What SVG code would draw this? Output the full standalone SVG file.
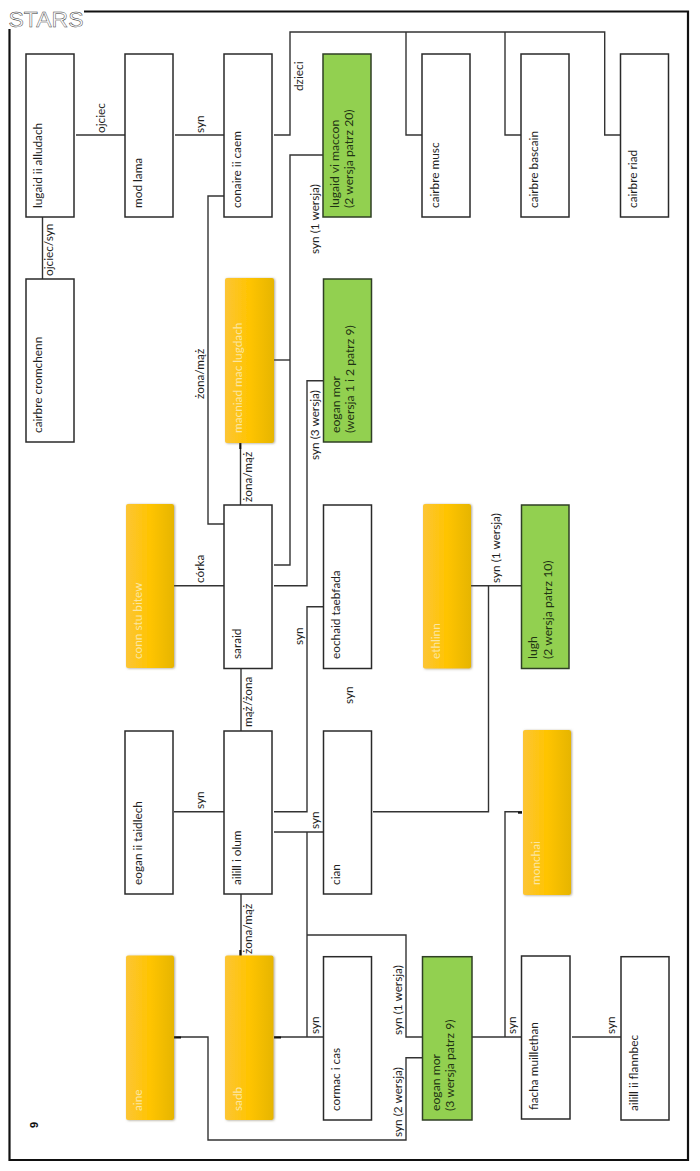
<svg xmlns="http://www.w3.org/2000/svg" width="700" height="1171" viewBox="0 0 700 1171">
  <defs>
    <linearGradient id="gold" x1="0" y1="0" x2="1" y2="0">
      <stop offset="0" stop-color="#fcc535"/>
      <stop offset="0.5" stop-color="#ffc400"/>
      <stop offset="1" stop-color="#e6b505"/>
    </linearGradient>
    <filter id="soft" x="-10%" y="-5%" width="125%" height="112%">
      <feDropShadow dx="1" dy="0.5" stdDeviation="1" flood-color="#6b6040" flood-opacity="0.55"/>
    </filter>
  </defs>
  <style>
    text { font-family: Lato, "Open Sans", "Noto Sans", sans-serif; font-size: 11.8px; fill: #1f1f1f; }
    .box { fill: #ffffff; stroke: #2a2a2a; stroke-width: 1.5; }
    .green { fill: #92d050; stroke: #2f3f25; stroke-width: 1.5; }
    .gold { fill: url(#gold); filter: url(#soft); }
    .gold-label { fill: #fbe6a2; }
    .green-label { fill: #1f3313; font-size: 12.2px; }
    .wire { fill: none; stroke: #333333; stroke-width: 1.4; }
    .stub { fill: none; stroke: #111111; stroke-width: 2; }
    .frame { fill: none; stroke: #111111; stroke-width: 2.2; }
    .logo { font-family: "Liberation Sans", sans-serif; font-size: 22.5px; fill: #ffffff; stroke: #333333; stroke-width: 0.45; }
    .page { font-family: "Liberation Sans", sans-serif; font-size: 11px; font-weight: bold; fill: #111111; }
  </style>

  <rect width="700" height="1171" fill="#ffffff"/>

  <!-- page border, left open at the top corner for the logo -->
  <path id="frame" class="frame" d="M84 11.5H688V1160H9.5V29"/>
  <text id="logo" class="logo" x="8.5" y="27.2" textLength="75" lengthAdjust="spacingAndGlyphs">STARS</text>
  <text id="page-number" class="page" transform="translate(38 1128) rotate(-90)">9</text>

  <g id="connectors">
    <path class="wire" d="M76 135H125"/>
    <path class="wire" d="M175 135H224"/>
    <path class="wire" d="M42.5 217V279"/>
    <path class="wire" d="M274 135H290V32H604.7V135H620.5"/>
    <path class="wire" d="M406 32V135H422"/>
    <path class="wire" d="M505 32V135H521"/>
    <path class="wire" d="M224 196H208V524H224"/>
    <path class="wire" d="M323 155H290V565H274"/>
    <path class="wire" d="M274 360H290"/>
    <path class="wire" d="M323 380.7H307V585.7H274"/>
    <path class="wire" d="M240.5 443V505"/>
    <path class="wire" d="M174 585.7H224"/>
    <path class="wire" d="M323 606.7H307V811.7H274"/>
    <path class="wire" d="M241 669V731"/>
    <path class="wire" d="M174 811.7H224"/>
    <path class="wire" d="M274 832H323"/>
    <path class="wire" d="M241 894V956"/>
    <path class="wire" d="M307 832V1037"/>
    <path class="wire" d="M274 1037H323"/>
    <path class="wire" d="M307 935H406V1037H422"/>
    <path class="wire" d="M174 1037H208V1140H406V1057.7H422"/>
    <path class="wire" d="M472 1037H521"/>
    <path class="wire" d="M505 1037V811.7H522"/>
    <path class="wire" d="M572 1037H621"/>
    <path class="wire" d="M373 811.7H488.5V585.7"/>
    <path class="wire" d="M471 585.7H521"/>
    <!-- short heavier ends where lines leave the gold boxes -->
    <path class="stub" d="M240.3 443V449"/>
    <path class="stub" d="M240.3 950V956"/>
    <path class="stub" d="M174 1037.5H181"/>
    <path class="stub" d="M274 1037.5H281"/>
    <path class="stub" d="M518 812.7H522"/>
  </g>

  <g id="link-labels">
    <text transform="translate(105 133) rotate(-90)">ojciec</text>
    <text transform="translate(204 133) rotate(-90)">syn</text>
    <text transform="translate(53 276) rotate(-90)">ojciec/syn</text>
    <text transform="translate(303 91) rotate(-90)">dzieci</text>
    <text transform="translate(319 254) rotate(-90)">syn (1 wersja)</text>
    <text transform="translate(204 399) rotate(-90)">żona/mąż</text>
    <text transform="translate(252 502) rotate(-90)">żona/mąż</text>
    <text transform="translate(319 460) rotate(-90)">syn (3 wersja)</text>
    <text transform="translate(204 583) rotate(-90)">córka</text>
    <text transform="translate(303 645) rotate(-90)">syn</text>
    <text transform="translate(252 727) rotate(-90)">mąż/żona</text>
    <text transform="translate(353 704) rotate(-90)">syn</text>
    <text transform="translate(500 583) rotate(-90)">syn (1 wersja)</text>
    <text transform="translate(204 809) rotate(-90)">syn</text>
    <text transform="translate(319 829) rotate(-90)">syn</text>
    <text transform="translate(252 954) rotate(-90)">żona/mąż</text>
    <text transform="translate(319 1034) rotate(-90)">syn</text>
    <text transform="translate(402 1035) rotate(-90)">syn (1 wersja)</text>
    <text transform="translate(402 1137) rotate(-90)">syn (2 wersja)</text>
    <text transform="translate(516 1034) rotate(-90)">syn</text>
    <text transform="translate(615 1034) rotate(-90)">syn</text>
  </g>

  <g id="lugaid-ii-alludach"><rect class="box" x="26" y="54" width="48" height="163"/><text transform="translate(42 208) rotate(-90)">lugaid ii alludach</text></g>
  <g id="mod-lama"><rect class="box" x="125" y="54" width="48" height="163"/><text transform="translate(141.5 208) rotate(-90)">mod lama</text></g>
  <g id="conaire-ii-caem"><rect class="box" x="224" y="54" width="48" height="163"/><text transform="translate(240.5 208) rotate(-90)">conaire ii caem</text></g>
  <g id="lugaid-vi-maccon"><rect class="green" x="323" y="54" width="48" height="163"/><text class="green-label" transform="translate(338.5 208) rotate(-90)">lugaid vi maccon</text><text class="green-label" transform="translate(352.5 208) rotate(-90)">(2 wersja patrz 20)</text></g>
  <g id="cairbre-musc"><rect class="box" x="422" y="54" width="48" height="163"/><text transform="translate(438.5 208) rotate(-90)">cairbre musc</text></g>
  <g id="cairbre-bascain"><rect class="box" x="521" y="54" width="48" height="163"/><text transform="translate(537.5 208) rotate(-90)">cairbre bascain</text></g>
  <g id="cairbre-riad"><rect class="box" x="620.5" y="54" width="48" height="163"/><text transform="translate(637 208) rotate(-90)">cairbre riad</text></g>

  <g id="cairbre-cromchenn"><rect class="box" x="26" y="279" width="48" height="163"/><text transform="translate(42 433) rotate(-90)">cairbre cromchenn</text></g>
  <g id="macniad-mac-lugdach"><rect class="gold" x="225" y="278" width="49" height="165" rx="2"/><text class="gold-label" transform="translate(241.5 433) rotate(-90)">macniad mac lugdach</text></g>
  <g id="eogan-mor-1-2"><rect class="green" x="323.5" y="279" width="48" height="163"/><text class="green-label" transform="translate(339.5 433) rotate(-90)">eogan mor</text><text class="green-label" transform="translate(354 433) rotate(-90)">(wersja 1 i 2 patrz 9)</text></g>

  <g id="conn-stu-bitew"><rect class="gold" x="126" y="504" width="48" height="164" rx="2"/><text class="gold-label" transform="translate(142 659) rotate(-90)">conn stu bitew</text></g>
  <g id="saraid"><rect class="box" x="224" y="505" width="48" height="163.5"/><text transform="translate(240.5 659) rotate(-90)">saraid</text></g>
  <g id="eochaid-taebfada"><rect class="box" x="323.5" y="505" width="48" height="163.5"/><text transform="translate(340 659) rotate(-90)">eochaid taebfada</text></g>
  <g id="ethlinn"><rect class="gold" x="423" y="504" width="48" height="164.5" rx="2"/><text class="gold-label" transform="translate(439.5 659) rotate(-90)">ethlinn</text></g>
  <g id="lugh"><rect class="green" x="521.5" y="505" width="47.5" height="163.5"/><text class="green-label" transform="translate(536.5 659) rotate(-90)">lugh</text><text class="green-label" transform="translate(552 659) rotate(-90)">(2 wersja patrz 10)</text></g>

  <g id="eogan-ii-taidlech"><rect class="box" x="125" y="731" width="48" height="163"/><text transform="translate(141.5 885) rotate(-90)">eogan ii taidlech</text></g>
  <g id="ailill-i-olum"><rect class="box" x="224" y="731" width="48" height="163"/><text transform="translate(240.5 885) rotate(-90)">ailill i olum</text></g>
  <g id="cian"><rect class="box" x="323.5" y="731" width="48" height="163"/><text transform="translate(340 885) rotate(-90)">cian</text></g>
  <g id="monchai"><rect class="gold" x="523" y="730" width="48" height="165" rx="2"/><text class="gold-label" transform="translate(539.5 885) rotate(-90)">monchai</text></g>

  <g id="aine"><rect class="gold" x="126" y="955.5" width="48" height="164.5" rx="2"/><text class="gold-label" transform="translate(142 1111) rotate(-90)">aine</text></g>
  <g id="sadb"><rect class="gold" x="225" y="955.5" width="48.5" height="164.5" rx="2"/><text class="gold-label" transform="translate(241.5 1111) rotate(-90)">sadb</text></g>
  <g id="cormac-i-cas"><rect class="box" x="323.5" y="956.7" width="48" height="163.3"/><text transform="translate(340 1111) rotate(-90)">cormac i cas</text></g>
  <g id="eogan-mor-3"><rect class="green" x="422.5" y="956.7" width="49.5" height="163.3"/><text class="green-label" transform="translate(439.5 1111) rotate(-90)">eogan mor</text><text class="green-label" transform="translate(453.5 1111) rotate(-90)">(3 wersja patrz 9)</text></g>
  <g id="fiacha-muillethan"><rect class="box" x="521.5" y="956" width="48.5" height="163"/><text transform="translate(538 1110) rotate(-90)">fiacha muillethan</text></g>
  <g id="ailill-ii-flannbec"><rect class="box" x="621" y="956.7" width="48" height="163.3"/><text transform="translate(637.5 1111) rotate(-90)">ailill ii flannbec</text></g>
</svg>
